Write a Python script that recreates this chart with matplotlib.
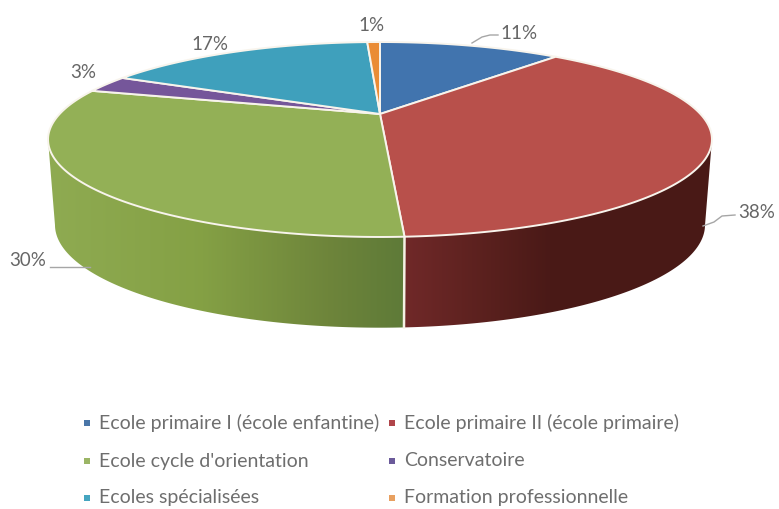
import numpy as np
import matplotlib
matplotlib.use('Agg')
import matplotlib.pyplot as plt
from matplotlib.patches import Polygon, Rectangle

plt.rcParams['font.family'] = ['Lato', 'DejaVu Sans']

categories = ["Ecole primaire I (école enfantine)", "Ecole primaire II (école primaire)",
              "Ecole cycle d'orientation", "Conservatoire",
              "Ecoles spécialisées", "Formation professionnelle"]
values = [11.4, 37.7, 30.3, 2.9, 16.9, 0.8]
colors = ['#4174ae', '#b8504b', '#93b056', '#75569a', '#3fa0bc', '#ea8c35']
legend_colors = ['#4a76a8', '#b0454a', '#9bb565', '#6b5a9a', '#45a5c0', '#e8a060']

# label position, leader line
label_pos = [(519, 33), (757, 212), (28, 261), (83, 72), (210, 44), (372, 25)]
leaders = {0: ([472, 482, 490, 498], [43, 37, 35, 35]),
           1: ([703, 714, 722, 735], [226, 222, 216, 215]),
           2: ([50, 70, 90], [267, 267, 267])}

# side shading, left to right in pixels
side_x = {1: [404, 480, 550, 712], 2: [48, 200, 330, 404]}
side_cols = {1: [(0.44, 0.16, 0.16), (0.36, 0.13, 0.12), (0.29, 0.10, 0.09), (0.29, 0.10, 0.09)],
             2: [(0.56, 0.67, 0.32), (0.52, 0.63, 0.27), (0.43, 0.52, 0.23), (0.37, 0.48, 0.22)]}

k = 0.2615


def top_rim(a):
    u, v = np.sin(a), np.cos(a)
    return 380 + 320.4 * u / (1 + k * v), (114 - 61.0 * v) / (1 + k * v)


def bottom_rim(a):
    u, v = np.sin(a), np.cos(a)
    return 380 + 313.7 * u / (1 + k * v), (198 - 44.0 * v) / (1 + k * v)


fig = plt.figure(figsize=(7.79, 5.09), dpi=100)
ax = fig.add_axes([0, 0, 1, 1])

edges = np.cumsum([0] + values) / sum(values) * 2 * np.pi

# outline of the whole drum: back of the top rim + front of the bottom rim
t = np.linspace(0, 2 * np.pi, 1441)
xt, yt = top_rim(t)
xb, yb = bottom_rim(t)
a_r = t[np.argmax(xt[:720])]
a_l = t[720 + np.argmin(xt[720:])]
b_r = t[np.argmax(xb[:720])]
b_l = t[720 + np.argmin(xb[720:])]
back = np.linspace(a_l - 2 * np.pi, a_r, 400)
front = np.linspace(b_r, b_l, 400)
outline = np.r_[np.c_[top_rim(back)], np.c_[bottom_rim(front)]]

# sides first, the top faces cover what is behind
for i in [1, 2]:
    poly = Polygon(outline, closed=True, fc='none', ec='none')
    ax.add_patch(poly)
    xs = np.linspace(side_x[i][0], side_x[i][-1], 300)
    grad = np.array([[np.interp(x, side_x[i], [c[j] for c in side_cols[i]]) for j in range(3)] for x in xs])
    im = ax.imshow(grad[np.newaxis, :, :], extent=[xs[0], xs[-1], 340, 100], aspect='auto',
                   interpolation='bilinear', zorder=0)
    im.set_clip_path(poly)

xl, yl = top_rim(edges[2]), bottom_rim(edges[2])
ax.plot([xl[0], yl[0]], [xl[1], yl[1]], color='#f4f1e4', lw=1.8, zorder=0.5)

for i in range(len(values)):
    a = np.linspace(edges[i], edges[i + 1], 200)
    xt, yt = top_rim(a)
    pts = np.r_[[[380, 114]], np.c_[xt, yt]]
    ax.add_patch(Polygon(pts, closed=True, fc=colors[i], ec='#f8f4ec', lw=1.4, joinstyle='round', zorder=1))

for i, (xs, ys) in leaders.items():
    ax.plot(xs, ys, color='#a6a6a6', lw=1.0, zorder=0.2)
for i, (x, y) in enumerate(label_pos):
    ax.text(x, y, '%.0f%%' % values[i], color='#666666', fontsize=13.5, ha='center', va='center')

# legend, two columns
col_x = [87, 392]
row_y = [423, 461, 498]
for i in range(len(categories)):
    x, y = col_x[i % 2], row_y[i // 2]
    ax.add_patch(Rectangle((x - 3, y - 3), 6, 6, fc=legend_colors[i], ec='none'))
    ax.text(x + 12, y, categories[i], color='#6e6e6e', fontsize=14, ha='left', va='center')

ax.set_xlim(0, 779)
ax.set_ylim(509, 0)
ax.axis('off')
fig.savefig('out.png', dpi=100)
